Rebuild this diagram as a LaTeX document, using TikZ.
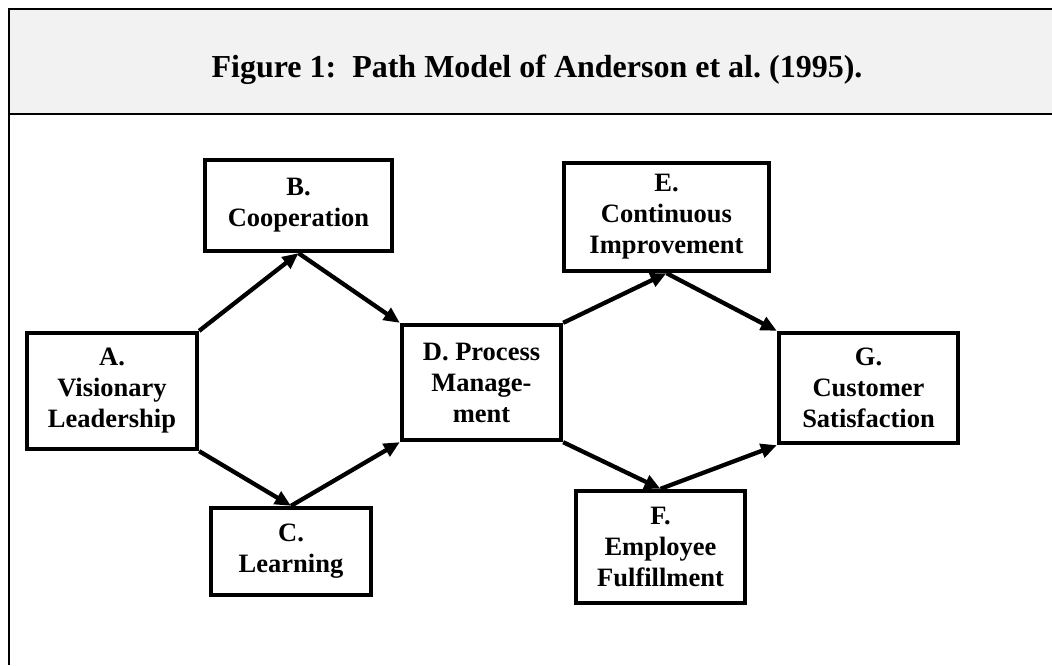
\documentclass[tikz,border=0pt]{standalone}
\usepackage{fontspec}
\setmainfont{Liberation Serif}
\usetikzlibrary{arrows.meta}
\definecolor{bandgray}{HTML}{F2F2F2}
\frenchspacing

\begin{document}
\begin{tikzpicture}[x=1pt, y=-1pt,
  factorbox/.style={draw, line width=4.3pt, align=center, inner sep=0pt,
    font=\fontsize{26.5}{31}\selectfont\bfseries},
  link/.style={line width=4.3pt, -{Triangle[length=16pt, width=14pt]}}]

\useasboundingbox (0,0) rectangle (1052,665);

% Title band
\fill[bandgray] (9,9) rectangle (1052,114);
\draw[line width=2.7pt] (1052,9) -- (9,9) -- (9,665);
\draw[line width=2.7pt] (9,114) -- (1052,114);
\node[anchor=base, font=\fontsize{32}{38}\selectfont\bfseries] (title) at (537,77)
  {Figure 1:\ \ Path Model of Anderson et al. (1995).};

% Factor boxes
\node[factorbox, minimum width=170pt, minimum height=116pt] (A) at (112,391)   {A.\\Visionary\\Leadership};
\node[factorbox, minimum width=187pt, minimum height=91pt]  (B) at (298.5,205.5) {B.\\Cooperation};
\node[factorbox, minimum width=160pt, minimum height=87pt]  (C) at (291,551.5) {C.\\Learning};
\node[factorbox, minimum width=159pt, minimum height=115pt] (D) at (481.5,382.5) {D. Process\\Manage-\\ment};
\node[factorbox, minimum width=205pt, minimum height=108pt] (E) at (666.5,217)  {E.\\Continuous\\Improvement};
\node[factorbox, minimum width=169pt, minimum height=112pt] (F) at (660.5,547)  {F.\\Employee\\Fulfillment};
\node[factorbox, minimum width=179pt, minimum height=110pt] (G) at (868.5,388)  {G.\\Customer\\Satisfaction};

% Paths
\draw[link] (A.north east) -- (B.south);
\draw[link] (B.south) -- (D.north west);
\draw[link] (A.south east) -- (C.north);
\draw[link] (C.north) -- (D.south west);
\draw[link] (D.north east) -- (E.south);
\draw[link] (E.south) -- (G.north west);
\draw[link] (D.south east) -- (F.north);
\draw[link] (F.north) -- (G.south west);

\end{tikzpicture}
\end{document}
